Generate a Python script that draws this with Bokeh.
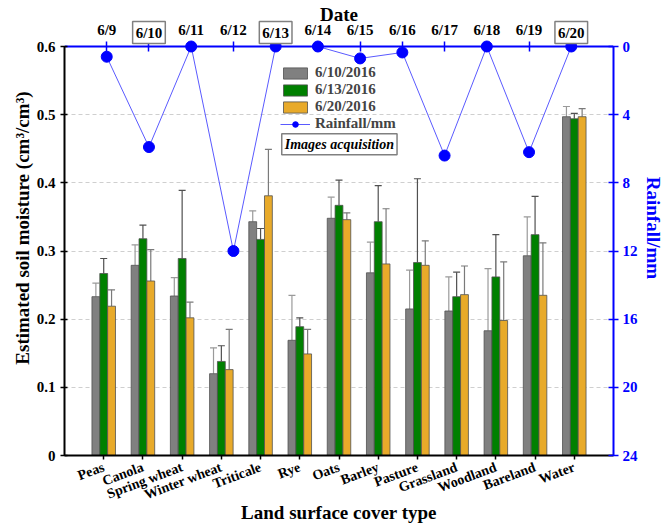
import numpy as np
from bokeh.plotting import figure
from bokeh.models import (Range1d, LinearAxis, FixedTicker, Whisker, TeeHead,
                          ColumnDataSource, Legend, LegendItem, Label)
from bokeh.embed import file_html
from bokeh.resources import INLINE

# ---------------- data ----------------
categories = ["Peas", "Canola", "Spring wheat", "Winter wheat", "Triticale", "Rye",
              "Oats", "Barley", "Pasture", "Grassland", "Woodland", "Bareland", "Water"]
series_names = ["6/10/2016", "6/13/2016", "6/20/2016"]
sm_0610 = [0.233, 0.279, 0.234, 0.120, 0.343, 0.169, 0.348, 0.268, 0.215, 0.212, 0.183, 0.293, 0.497]
sm_0613 = [0.267, 0.318, 0.289, 0.138, 0.317, 0.189, 0.367, 0.343, 0.283, 0.233, 0.262, 0.324, 0.494]
sm_0620 = [0.219, 0.256, 0.202, 0.126, 0.381, 0.149, 0.346, 0.281, 0.279, 0.236, 0.198, 0.235, 0.497]
err_0610 = [0.020, 0.030, 0.027, 0.038, 0.016, 0.066, 0.031, 0.045, 0.057, 0.050, 0.091, 0.057, 0.015]
err_0613 = [0.022, 0.020, 0.100, 0.023, 0.016, 0.013, 0.037, 0.053, 0.123, 0.036, 0.062, 0.056, 0.008]
err_0620 = [0.024, 0.046, 0.023, 0.059, 0.068, 0.036, 0.010, 0.081, 0.036, 0.042, 0.086, 0.077, 0.012]

dates = ["6/9", "6/10", "6/11", "6/12", "6/13", "6/14", "6/15", "6/16", "6/17", "6/18", "6/19", "6/20"]
date_day = [9, 10, 11, 12, 13, 14, 15, 16, 17, 18, 19, 20]
rainfall = [0.6, 5.9, 0.0, 12.0, 0.0, 0.0, 0.7, 0.35, 6.4, 0.0, 6.2, 0.0]
acquisition_dates = ["6/10", "6/13", "6/20"]

left_ticks = [0, 0.1, 0.2, 0.3, 0.4, 0.5, 0.6]
left_tick_labels = ["0", "0.1", "0.2", "0.3", "0.4", "0.5", "0.6"]
rain_ticks = [0, 4, 8, 12, 16, 20, 24]

# ---------------- styles / geometry ----------------
FONT = "Liberation Serif"
BLUE = "#0000ff"
colors = ["#808080", "#008000", "#e8aa2a"]
err_colors = ["#9a9a9a", "#505050", "#7a7a7a"]

W, H = 668, 526
B_LEFT, B_RIGHT, B_BOTTOM = 64, 55, 71
TOP_PX = 46                      # pixels above the 0.6 line (room for the date axis)
frame_h = H - B_BOTTOM
px_per_unit = (frame_h - TOP_PX) / 0.6
y_top = frame_h / px_per_unit    # soil-moisture value at the very top of the frame
rain_px = (frame_h - TOP_PX) / 24.0
rain_top = -TOP_PX / rain_px

p = figure(width=W, height=H, x_range=Range1d(0, 14), y_range=Range1d(0, y_top),
           output_backend="svg", toolbar_location=None,
           min_border_left=B_LEFT, min_border_right=B_RIGHT, min_border_top=0,
           min_border_bottom=B_BOTTOM)
p.outline_line_color = None
p.background_fill_color = "white"
p.border_fill_color = "white"

p.extra_x_ranges = {"date": Range1d(8, 21)}
p.extra_y_ranges = {"rain": Range1d(24, rain_top)}

idx = np.arange(1, len(categories) + 1)
offsets = [-0.2, 0.0, 0.2]
vals = [sm_0610, sm_0613, sm_0620]
errs = [err_0610, err_0613, err_0620]

bar_renderers = []
for k in range(3):
    xs = idx + offsets[k]
    src = ColumnDataSource(dict(x=xs, top=vals[k],
                                upper=np.array(vals[k]) + np.array(errs[k]),
                                lower=np.array(vals[k])))
    w = Whisker(base="x", upper="upper", lower="lower", source=src, dimension="height",
                line_color=err_colors[k], line_width=1.2,
                upper_head=TeeHead(size=7, line_color=err_colors[k], line_width=1.2),
                lower_head=None, level="underlay")
    p.add_layout(w)
    r = p.vbar(x="x", top="top", width=0.2, bottom=0, source=src,
               fill_color=colors[k], line_color="#505050", line_width=0.8)
    bar_renderers.append(r)

# rainfall
rsrc = ColumnDataSource(dict(d=date_day, rain=rainfall))
rl = p.line(x="d", y="rain", source=rsrc, x_range_name="date", y_range_name="rain",
            line_color="#5a5aff", line_width=1)
rs = p.scatter(x="d", y="rain", source=rsrc, x_range_name="date", y_range_name="rain",
               size=11, fill_color=BLUE, line_color=BLUE)

# ---------------- axes ----------------
xa = p.xaxis[0]
xa.ticker = FixedTicker(ticks=list(idx))
xa.major_label_overrides = {int(i): c for i, c in zip(idx, categories)}
xa.major_label_orientation = 0.36
xa.axis_label = "Land surface cover type"

ya = p.yaxis[0]
ya.ticker = FixedTicker(ticks=left_ticks)
ya.major_label_overrides = {t: l for t, l in zip(left_ticks, left_tick_labels)}
ya.axis_label = "Estimated soil moisture (cm\u00b3/cm\u00b3)"
ya.bounds = (0, 0.6)

for ax in (xa, ya):
    ax.axis_line_color = "black"
    ax.axis_line_width = 2
    ax.major_tick_line_color = "black"
    ax.major_tick_line_width = 1.5
    ax.major_tick_in = 3
    ax.major_tick_out = 4
    ax.minor_tick_line_color = None
    ax.major_label_text_font = FONT
    ax.major_label_text_font_style = "bold"
    ax.major_label_text_font_size = "14px"
    ax.major_label_text_color = "black"
    ax.axis_label_text_font = FONT
    ax.axis_label_text_font_style = "bold"
    ax.axis_label_text_font_size = "19px"
    ax.axis_label_text_color = "black"
ya.major_label_text_font_size = "15px"
xa.major_tick_in = 0
xa.major_label_standoff = 7
xa.axis_label_standoff = -10
ya.axis_label_standoff = 1

top_ax = LinearAxis(x_range_name="date", ticker=FixedTicker(ticks=date_day), fixed_location=0.6)
top_ax.major_label_overrides = {d: ("" if s in acquisition_dates else s) for d, s in zip(date_day, dates)}
top_ax.axis_label = "Date"
right_ax = LinearAxis(y_range_name="rain", ticker=FixedTicker(ticks=rain_ticks))
right_ax.axis_label = "Rainfall/mm"
right_ax.bounds = (0, 24)

for ax in (top_ax, right_ax):
    ax.axis_line_color = BLUE
    ax.axis_line_width = 2
    ax.major_tick_line_color = BLUE
    ax.major_tick_line_width = 1.5
    ax.major_tick_in = 5
    ax.major_tick_out = 5
    ax.minor_tick_line_color = None
    ax.major_label_text_font = FONT
    ax.major_label_text_font_style = "bold"
    ax.major_label_text_font_size = "15px"
    ax.axis_label_text_font = FONT
    ax.axis_label_text_font_style = "bold"
    ax.axis_label_text_font_size = "19px"
top_ax.major_label_standoff = 4
top_ax.major_label_text_color = "black"
top_ax.axis_label_text_color = "black"
top_ax.axis_label_standoff = -6
right_ax.major_label_standoff = 4
right_ax.major_label_text_color = BLUE
right_ax.axis_label_text_color = BLUE
right_ax.axis_label_standoff = 2
p.add_layout(top_ax, "above")
p.add_layout(right_ax, "right")

# boxed acquisition dates on the top axis
lab_style = dict(text_align="center", text_baseline="middle",
                 text_font=FONT, text_font_style="bold", text_font_size="15px",
                 text_color="black", padding=3,
                 border_line_color="#808080", border_line_width=1.5,
                 background_fill_color="white")
for s in acquisition_dates:
    d = date_day[dates.index(s)]
    p.add_layout(Label(x=d, y=0.6 + 14 / px_per_unit, x_range_name="date", text=s, **lab_style))

# grid
p.xgrid.visible = False
p.ygrid.ticker = FixedTicker(ticks=left_ticks[1:-1])
p.ygrid.grid_line_color = "#cfcfcf"
p.ygrid.grid_line_dash = "4 3"
p.ygrid.grid_line_width = 1

# legend
legend = Legend(items=[LegendItem(label=series_names[k], renderers=[bar_renderers[k]]) for k in range(3)]
                + [LegendItem(label="Rainfall/mm", renderers=[rl, rs])],
                location=(216, 323), orientation="vertical",
                label_text_font=FONT, label_text_font_style="bold", label_text_font_size="15px",
                glyph_width=30, glyph_height=14, label_height=14, spacing=0,
                padding=2, margin=0, border_line_color=None, background_fill_alpha=0)
p.add_layout(legend)

p.add_layout(Label(x=5.54, y=0.4567, text="Images acquisition", text_align="left",
                   text_baseline="middle", text_font=FONT, text_font_style="bold italic",
                   text_font_size="14px", text_color="black", padding=3,
                   border_line_color="#808080", border_line_width=1.5,
                   background_fill_color="white"))

open("out.html", "w").write(file_html(p, INLINE))
